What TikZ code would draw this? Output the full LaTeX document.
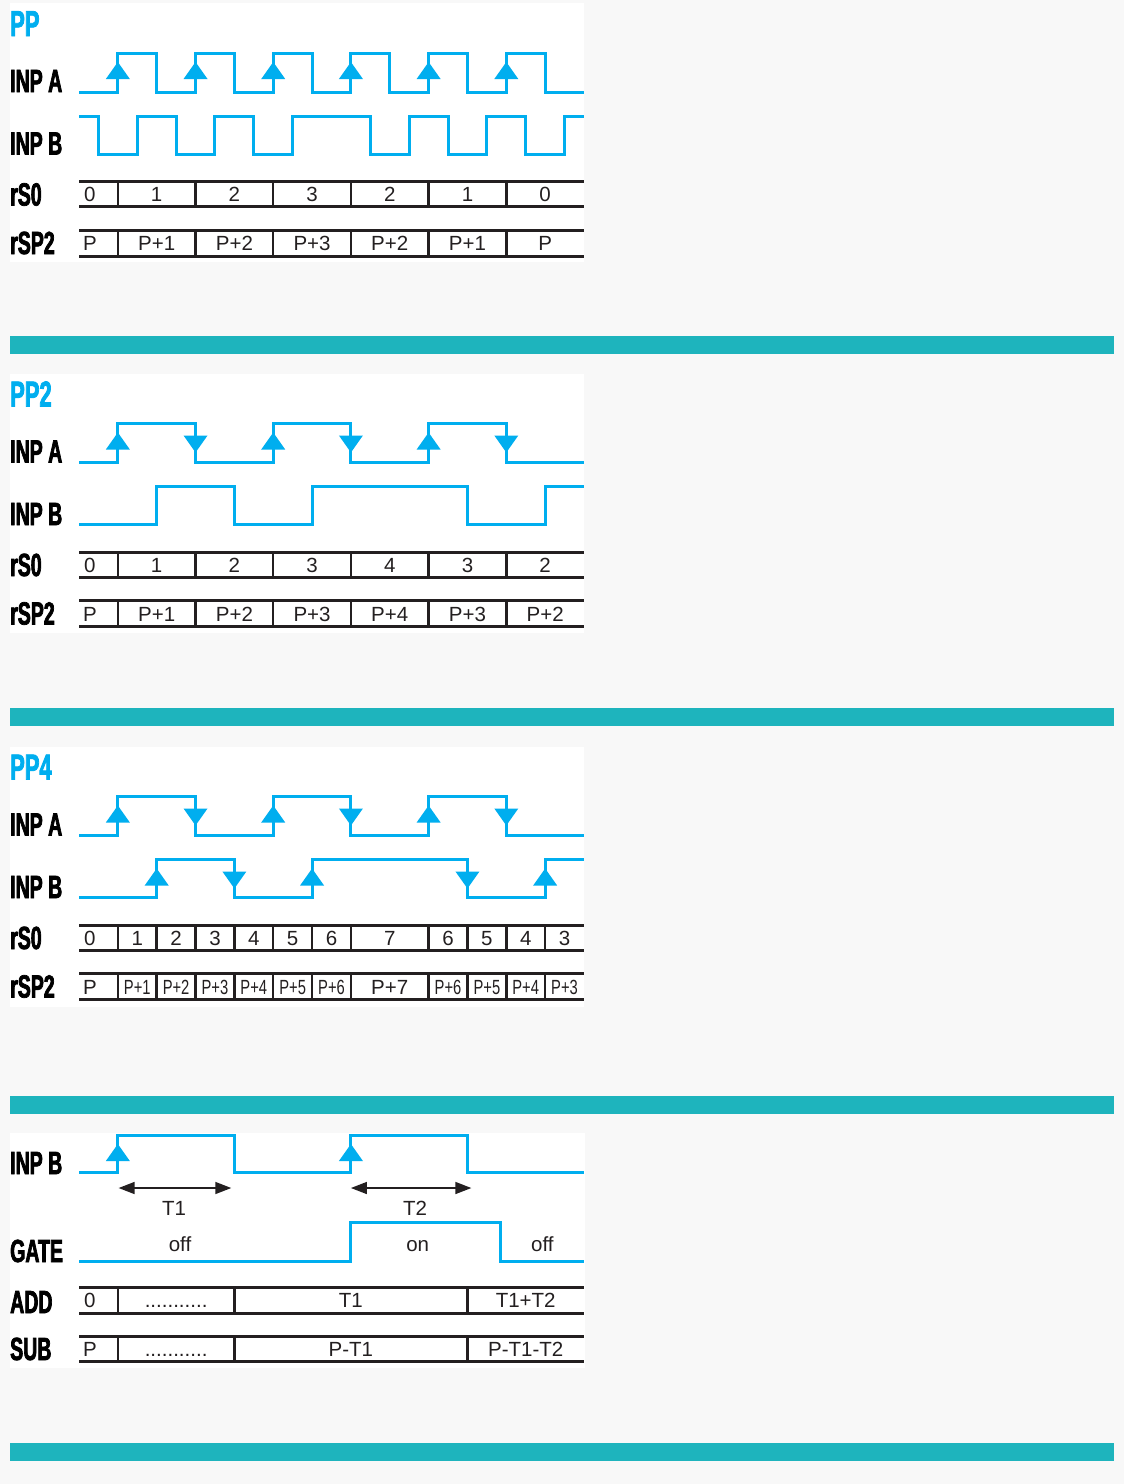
\documentclass[tikz,border=0pt]{standalone}
\usepackage{fontspec}
\setmainfont{Liberation Sans}
\newfontfamily\labfont[FakeStretch=0.61,FakeBold=2.2]{Liberation Sans Bold}
\usetikzlibrary{arrows.meta}
\definecolor{wblue}{HTML}{00AEEF}
\definecolor{barteal}{HTML}{1EB4BD}
\definecolor{bgc}{HTML}{F8F8F8}
\definecolor{ink}{HTML}{231F20}
\tikzset{
  wave/.style={wblue,line width=3pt},
  rowline/.style={ink,line width=3pt},
  divline/.style={ink,line width=2.5pt},
  lab/.style={font=\labfont\fontsize{32}{32}\selectfont,anchor=base west,inner sep=0pt,text=black},
  ttl/.style={font=\labfont\fontsize{36}{36}\selectfont,text=wblue,anchor=base west,inner sep=0pt},
  val/.style={font=\fontsize{20.5}{20.5}\selectfont,anchor=base,inner sep=0pt,text=ink},
  dimarrow/.style={{Triangle[length=16pt,width=12pt]}-{Triangle[length=16pt,width=12pt]},line width=1.5pt,ink},
  panel/.style={fill=white},
  bar/.style={fill=barteal}
}
\newcommand\uparr[2]{\fill[wblue] (#1,#2) ++(-12pt,-26pt) -- ++(24pt,0pt) -- ++(-12pt,17pt) -- cycle;}
\newcommand\dnarr[2]{\fill[wblue] (#1,#2) ++(-12pt,-12pt) -- ++(24pt,0pt) -- ++(-12pt,-17pt) -- cycle;}
\newcommand\rowlines[3]{%
  \draw[rowline] (0,#1) -- (13,#1);
  \draw[rowline] (0,#2) -- (13,#2);
  \foreach \d in {#3}{\draw[divline] (\d,#1) -- (\d,#2);}}
\newcommand\nar[1]{\scalebox{0.72}[1]{#1}}
\newcommand\mydots{...........}
\begin{document}
\begin{tikzpicture}[x=1pt,y=-1pt]
\useasboundingbox (0,0) rectangle (1124,1484);
\fill[bgc] (0,0) rectangle (1124,1484);
% teal bars
\fill[bar] (10,336) rectangle (1114,353.7);
\fill[bar] (10,708.3) rectangle (1114,725.7);
\fill[bar] (10,1096) rectangle (1114,1113.7);
\fill[bar] (10,1442.7) rectangle (1114,1460.7);

% ================= PP =================
\fill[panel] (10,3) rectangle (584,262);
\node[ttl] (ppT) at (10,36) {PP};
\node[lab] (ppLA) at (10,92) {INP A};
\node[lab] (ppLB) at (10,154.5) {INP B};
\node[lab] (ppLS) at (10,205.5) {rS0};
\node[lab] (ppLP) at (10,254) {rSP2};
\begin{scope}[shift={(79,0)},x=38.846pt]
  \draw[wave] (0,92) -| (1,53) -| (2,92) -| (3,53) -| (4,92) -| (5,53) -| (6,92) -| (7,53) -| (8,92) -| (9,53) -| (10,92) -| (11,53) -| (12,92) -- (13,92);
  \foreach \k in {1,3,5,7,9,11}{\uparr{\k}{53}}
  \draw[wave] (0,116) -| (0.5,154) -| (1.5,116) -| (2.5,154) -| (3.5,116) -| (4.5,154) -| (5.5,116) -| (7.5,154) -| (8.5,116) -| (9.5,154) -| (10.5,116) -| (11.5,154) -| (12.5,116) -- (13,116);
  \rowlines{181.7}{206.7}{1,3,5,7,9,11}
  \foreach \k/\t [count=\i] in {0.28/0,2/1,4/2,6/3,8/2,10/1,12/0}{\node[val] (ppS\i) at (\k,201.5) {\t};}
  \rowlines{230}{256}{1,3,5,7,9,11}
  \foreach \k/\t [count=\i] in {0.28/P,2/P+1,4/P+2,6/P+3,8/P+2,10/P+1,12/P}{\node[val] (ppP\i) at (\k,250.5) {\t};}
\end{scope}

% ================= PP2 =================
\begin{scope}[yshift=-370.5pt]
\fill[panel] (10,3) rectangle (584,262);
\node[ttl] (p2T) at (10,36) {PP2};
\node[lab] (p2LA) at (10,92) {INP A};
\node[lab] (p2LB) at (10,154.5) {INP B};
\node[lab] (p2LS) at (10,205.5) {rS0};
\node[lab] (p2LP) at (10,254) {rSP2};
\begin{scope}[shift={(79,0)},x=38.846pt]
  \draw[wave] (0,92) -| (1,53) -| (3,92) -| (5,53) -| (7,92) -| (9,53) -| (11,92) -- (13,92);
  \foreach \k in {1,5,9}{\uparr{\k}{53}}
  \foreach \k in {3,7,11}{\dnarr{\k}{53}}
  \draw[wave] (0,154) -| (2,116) -| (4,154) -| (6,116) -| (10,154) -| (12,116) -- (13,116);
  \rowlines{181.7}{206.7}{1,3,5,7,9,11}
  \foreach \k/\t [count=\i] in {0.28/0,2/1,4/2,6/3,8/4,10/3,12/2}{\node[val] (p2S\i) at (\k,201.5) {\t};}
  \rowlines{230}{256}{1,3,5,7,9,11}
  \foreach \k/\t [count=\i] in {0.28/P,2/P+1,4/P+2,6/P+3,8/P+4,10/P+3,12/P+2}{\node[val] (p2P\i) at (\k,250.5) {\t};}
\end{scope}
\end{scope}

% ================= PP4 =================
\begin{scope}[yshift=-743.5pt]
\fill[panel] (10,3) rectangle (584,263);
\node[ttl] (p4T) at (10,36) {PP4};
\node[lab] (p4LA) at (10,92) {INP A};
\node[lab] (p4LB) at (10,154.5) {INP B};
\node[lab] (p4LS) at (10,205.5) {rS0};
\node[lab] (p4LP) at (10,254) {rSP2};
\begin{scope}[shift={(79,0)},x=38.846pt]
  \draw[wave] (0,92) -| (1,53) -| (3,92) -| (5,53) -| (7,92) -| (9,53) -| (11,92) -- (13,92);
  \foreach \k in {1,5,9}{\uparr{\k}{53}}
  \foreach \k in {3,7,11}{\dnarr{\k}{53}}
  \draw[wave] (0,154) -| (2,116) -| (4,154) -| (6,116) -| (10,154) -| (12,116) -- (13,116);
  \foreach \k in {2,6,12}{\uparr{\k}{116}}
  \foreach \k in {4,10}{\dnarr{\k}{116}}
  \rowlines{181.7}{206.7}{1,2,3,4,5,6,7,9,10,11,12}
  \foreach \k/\t [count=\i] in {0.28/0,1.5/1,2.5/2,3.5/3,4.5/4,5.5/5,6.5/6,8/7,9.5/6,10.5/5,11.5/4,12.5/3}{\node[val] (p4S\i) at (\k,201.5) {\t};}
  \rowlines{230}{256}{1,2,3,4,5,6,7,9,10,11,12}
  \node[val] (p4P0) at (0.28,250.5) {P};
  \foreach \k/\t [count=\i] in {1.5/P+1,2.5/P+2,3.5/P+3,4.5/P+4,5.5/P+5,6.5/P+6,9.5/P+6,10.5/P+5,11.5/P+4,12.5/P+3}{\node[val] (p4P\i) at (\k,250.5) {\nar{\t}};}
  \node[val] (p4Pm) at (8,250.5) {P+7};
\end{scope}
\end{scope}

% ================= GATE panel =================
\fill[panel] (10,1133) rectangle (585,1368);
\node[lab] (gLB) at (10,1174) {INP B};
\node[lab] (gLG) at (10,1262) {GATE};
\node[lab] (gLA) at (10,1313) {ADD};
\node[lab] (gLS) at (10,1360) {SUB};
\begin{scope}[shift={(79,0)},x=38.846pt]
  \draw[wave] (0,1172.7) -| (1,1135) -| (4,1172.7) -| (7,1135) -| (10,1172.7) -- (13,1172.7);
  \foreach \k in {1,7}{\uparr{\k}{1135}}
  \coordinate (t1a) at (1.02,1188);
  \coordinate (t1b) at (3.92,1188);
  \coordinate (t2a) at (7,1188);
  \coordinate (t2b) at (10.1,1188);
  \draw[dimarrow] (t1a) -- (t1b);
  \draw[dimarrow] (t2a) -- (t2b);
  \node[val] (gT1) at (2.45,1215) {T1};
  \node[val] (gT2) at (8.65,1215) {T2};
  \draw[wave] (0,1261.7) -| (7,1222.7) -| (10.86,1261.7) -- (13,1261.7);
  \node[val] (gOff1) at (2.6,1251) {off};
  \node[val] (gOn) at (8.72,1251) {on};
  \node[val] (gOff2) at (11.93,1251) {off};
  \rowlines{1287}{1313}{1,4,10}
  \node[val] (gA1) at (0.28,1307.5) {0};
  \node[val] (gA2) at (2.5,1307.5) {\mydots};
  \node[val] (gA3) at (7,1307.5) {T1};
  \node[val] (gA4) at (11.5,1307.5) {T1+T2};
  \rowlines{1336.7}{1361.7}{1,4,10}
  \node[val] (gS1) at (0.28,1356.5) {P};
  \node[val] (gS2) at (2.5,1356.5) {\mydots};
  \node[val] (gS3) at (7,1356.5) {P-T1};
  \node[val] (gS4) at (11.5,1356.5) {P-T1-T2};
\end{scope}
\end{tikzpicture}
\end{document}
